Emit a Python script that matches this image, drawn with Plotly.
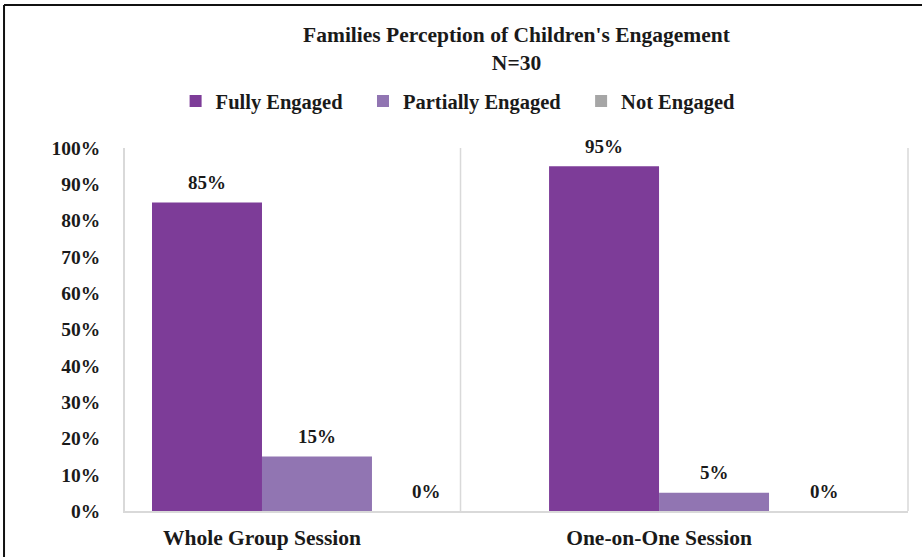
import plotly.graph_objects as go

categories = ["Whole Group Session", "One-on-One Session"]
series_names = ["Fully Engaged", "Partially Engaged", "Not Engaged"]
fully = [0.85, 0.95]
partially = [0.15, 0.05]
not_engaged = [0.0, 0.0]
y_ticks = [0, 0.1, 0.2, 0.3, 0.4, 0.5, 0.6, 0.7, 0.8, 0.9, 1.0]
y_tick_labels = ["0%", "10%", "20%", "30%", "40%", "50%", "60%", "70%", "80%", "90%", "100%"]

colors = ["#7D3C98", "#9175B2", "#A6A6A6"]
FONT = "Liberation Serif"
TXT = "#1a1a1a"
BW = 0.277
offsets = [-BW, 0, BW]

xpos = list(range(len(categories)))
fig = go.Figure()
for name, vals, col, off in zip(series_names, [fully, partially, not_engaged], colors, offsets):
    fig.add_trace(go.Bar(
        x=xpos, y=vals, name=f"<b>{name}</b>" + "&nbsp;" * 3, width=BW, offset=off,
        marker=dict(color=col, line=dict(width=0)),
    ))
    for xi, v in zip(xpos, vals):
        fig.add_annotation(x=xi + off + BW / 2, y=v, xref="x", yref="y",
                           text=f"<b>{v*100:.0f}%</b>", showarrow=False,
                           yanchor="middle", yshift=20,
                           font=dict(family=FONT, size=19, color=TXT))

fig.update_layout(
    width=922, height=557,
    margin=dict(l=125, r=14, t=148, b=46, autoexpand=False),
    paper_bgcolor="white", plot_bgcolor="white",
    font=dict(family=FONT, color=TXT),
    title=dict(text="<b>Families Perception of Children's Engagement<br>N=30</b>",
               x=0.5, xref="paper", xanchor="center", y=0.924, yanchor="middle",
               font=dict(family=FONT, size=21.5, color=TXT)),
    legend=dict(orientation="h", x=0.435, xanchor="center", y=1.129, yanchor="middle",
                font=dict(family=FONT, size=20.5, color=TXT),
                itemwidth=30, traceorder="normal"),
    showlegend=True,
)
fig.update_xaxes(
    range=[-0.345, 1.627], tickvals=xpos, ticktext=[f"<b>{c}</b>" for c in categories],
    tickfont=dict(family=FONT, size=21.5, color=TXT),
    showgrid=False, zeroline=False, showline=True, linecolor="#D9D9D9", linewidth=1.5,
    ticks="", ticklabelstandoff=6, automargin=False,
)
fig.update_yaxes(
    range=[0, 1], tickvals=y_ticks, ticktext=[f"<b>{t}</b>" for t in y_tick_labels],
    tickfont=dict(family=FONT, size=19.5, color=TXT),
    showgrid=False, zeroline=False, showline=True, linecolor="#D9D9D9", linewidth=1.5,
    ticks="", ticklabelstandoff=19, automargin=False,
)
# category separator and right frame line
fig.add_shape(type="line", xref="x", yref="paper", x0=0.5, x1=0.5, y0=0, y1=1,
              line=dict(color="#D9D9D9", width=1.5), layer="below")
fig.add_shape(type="line", xref="paper", yref="paper", x0=1, x1=1, y0=0, y1=1,
              line=dict(color="#D9D9D9", width=1.5), layer="below")
# outer chart border (top and left visible)
fig.add_shape(type="line", xref="paper", yref="paper", x0=-0.1545, x1=1.03, y0=1.394, y1=1.394,
              line=dict(color="#111111", width=2))
fig.add_shape(type="line", xref="paper", yref="paper", x0=-0.1545, x1=-0.1545, y0=-0.2, y1=1.394,
              line=dict(color="#111111", width=2))

fig.write_html("out.html", config={"displayModeBar": False},
               post_script="document.body.style.margin='0';")
